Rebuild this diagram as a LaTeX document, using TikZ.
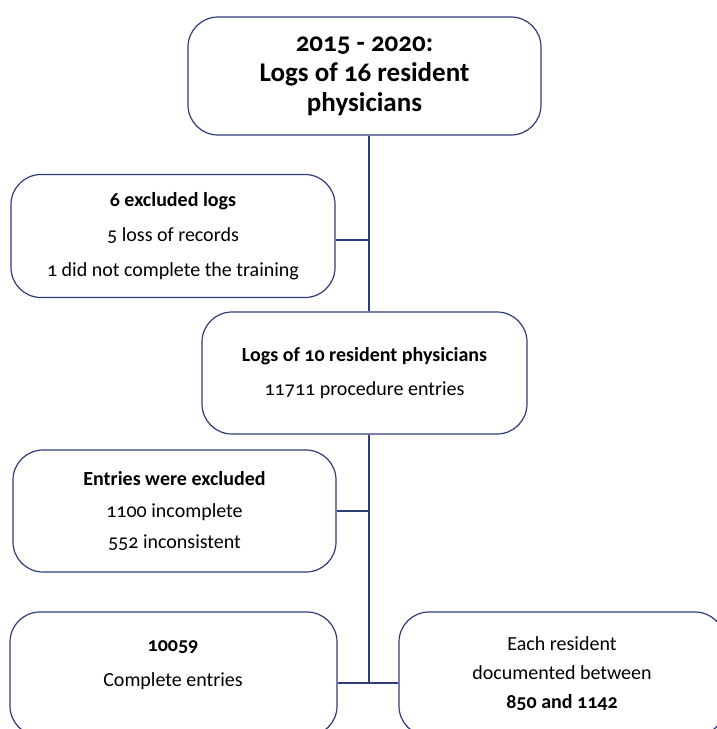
\documentclass[tikz,border=0pt]{standalone}
\usepackage{fontspec}
\setmainfont{Carlito}[Numbers=OldStyle]
\definecolor{navy}{RGB}{47,60,122}
\tikzset{
  box/.style={draw=navy, line width=1.2pt, rounded corners=30pt, fill=white, inner sep=0pt},
  link/.style={draw=navy, line width=1.5pt},
  txt/.style={align=center, inner sep=0pt, text=black}
}
\begin{document}
\begin{tikzpicture}[x=1pt,y=-1pt]
\useasboundingbox (0,0) rectangle (717,729);
\clip (0,0) rectangle (717,729);
\coordinate (j) at (369,683);
% boxes
\node[box, minimum width=353pt, minimum height=118pt, txt, font=\bfseries\fontsize{27}{30}\selectfont] (b1) at (364.5,76) {2015 - 2020:\\Logs of 16 resident\\physicians};
\node[box, minimum width=324pt, minimum height=123pt, txt, font=\fontsize{20}{35}\selectfont] (b2) at (173,236) {\textbf{6 excluded logs}\\5 loss of records\\1 did not complete the training};
\node[box, minimum width=325pt, minimum height=122pt, txt, font=\fontsize{20}{34}\selectfont] (b3) at (364.5,373) {\textbf{Logs of 10 resident physicians}\\11711 procedure entries};
\node[box, minimum width=323pt, minimum height=122pt, txt, font=\fontsize{20}{31.5}\selectfont] (b4) at (174.5,511) {\textbf{Entries were excluded}\\1100 incomplete\\552 inconsistent};
\node[box, minimum width=327pt, minimum height=124pt] (b5) at (173.5,674) {};
\node[txt, font=\fontsize{20}{35}\selectfont] (t5) at (173,665) {\textbf{10059}\\Complete entries};
\node[box, minimum width=326pt, minimum height=124pt, txt, font=\fontsize{20}{29}\selectfont] (b6) at (562,674) {Each resident\\documented between\\\textbf{850 and 1142}};
% connectors
\draw[link] (b1.south -| j) -- (b3.north -| j);
\draw[link] (b3.south -| j) -- (j);
\draw[link] (b2.east |- 0,240) -- (j |- 0,240);
\draw[link] (b4.east |- 0,511) -- (j |- 0,511);
\draw[link] (b5.east |- j) -- (b6.west |- j);
\end{tikzpicture}
\end{document}
